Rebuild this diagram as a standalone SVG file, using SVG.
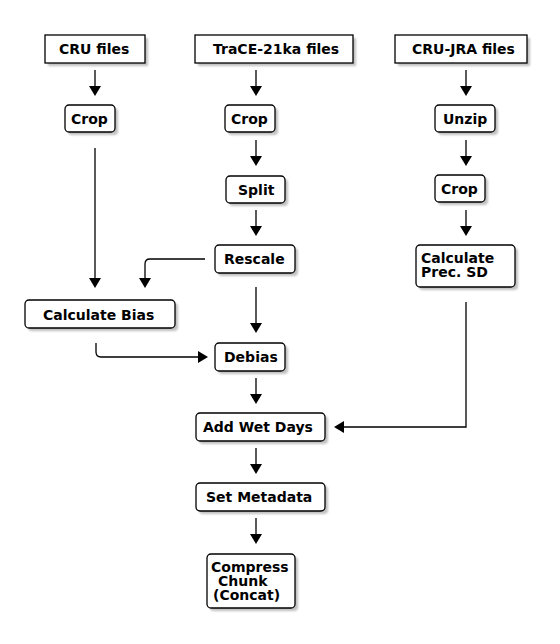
<svg xmlns="http://www.w3.org/2000/svg" width="560" height="644" viewBox="0 0 560 644">
  <style>
    .box { fill: #ffffff; stroke: #000000; stroke-width: 1.3; }
    .shadow { fill: #8c8c8c; opacity: 0.55; filter: url(#soft); }
    .label { font-family: "DejaVu Sans", "Liberation Sans", sans-serif; font-weight: bold; font-size: 14px; fill: #000000; }
    .edge { fill: none; stroke: #000000; stroke-width: 1.3; marker-end: url(#arrow); }
  </style>
  <defs>
    <filter id="soft" x="-10%" y="-20%" width="130%" height="150%">
      <feGaussianBlur stdDeviation="1"/>
    </filter>
    <marker id="arrow" viewBox="0 0 10 12" refX="0" refY="6" markerWidth="10" markerHeight="12" markerUnits="userSpaceOnUse" orient="auto-start-reverse">
      <path d="M0,0 L0,12 L10,6 Z" transform="rotate(0)" fill="#000000"/>
    </marker>
  </defs>
  <rect width="560" height="644" fill="#ffffff"/>

  <!-- connectors -->
  <g id="connectors">
    <path class="edge" d="M95,70 V86"/>
    <path class="edge" d="M256,70 V86"/>
    <path class="edge" d="M466,70 V86"/>
    <path class="edge" d="M256,140 V156"/>
    <path class="edge" d="M466,140 V156"/>
    <path class="edge" d="M256,210 V226"/>
    <path class="edge" d="M466,210 V226"/>
    <path class="edge" d="M95,148 V278"/>
    <path class="edge" d="M205,259 H150 Q145,259 145,264 V278"/>
    <path class="edge" d="M256,287 V323"/>
    <path class="edge" d="M96,343 V352 Q96,357 101,357 H198"/>
    <path class="edge" d="M256,378 V394"/>
    <path class="edge" d="M466,302 V427 H344"/>
    <path class="edge" d="M256,448 V464"/>
    <path class="edge" d="M256,518 V534"/>
  </g>

  <!-- source files -->
  <g id="cru-files">
    <rect class="shadow" x="48" y="38" width="100" height="28"/>
    <rect class="box" x="45" y="35" width="100" height="28"/>
    <text class="label" x="59" y="54">CRU files</text>
  </g>
  <g id="trace-files">
    <rect class="shadow" x="198" y="38" width="158" height="28"/>
    <rect class="box" x="195" y="35" width="158" height="28"/>
    <text class="label" x="213" y="54">TraCE-21ka files</text>
  </g>
  <g id="crujra-files">
    <rect class="shadow" x="398" y="38" width="132" height="28"/>
    <rect class="box" x="395" y="35" width="132" height="28"/>
    <text class="label" x="412" y="54">CRU-JRA files</text>
  </g>

  <!-- CRU branch -->
  <g id="cru-crop">
    <rect class="shadow" x="68" y="108" width="50" height="27" rx="4"/>
    <rect class="box" x="65" y="105" width="50" height="27" rx="4"/>
    <text class="label" x="71" y="124">Crop</text>
  </g>

  <!-- TraCE branch -->
  <g id="trace-crop">
    <rect class="shadow" x="228" y="108" width="50" height="27" rx="4"/>
    <rect class="box" x="225" y="105" width="50" height="27" rx="4"/>
    <text class="label" x="231" y="124">Crop</text>
  </g>
  <g id="split">
    <rect class="shadow" x="229" y="179" width="59" height="27" rx="4"/>
    <rect class="box" x="226" y="176" width="59" height="27" rx="4"/>
    <text class="label" x="238" y="195">Split</text>
  </g>
  <g id="rescale">
    <rect class="shadow" x="218" y="248" width="80" height="28" rx="4"/>
    <rect class="box" x="215" y="245" width="80" height="28" rx="4"/>
    <text class="label" x="224" y="264">Rescale</text>
  </g>

  <!-- CRU-JRA branch -->
  <g id="unzip">
    <rect class="shadow" x="438" y="108" width="60" height="27" rx="4"/>
    <rect class="box" x="435" y="105" width="60" height="27" rx="4"/>
    <text class="label" x="443" y="124">Unzip</text>
  </g>
  <g id="jra-crop">
    <rect class="shadow" x="438" y="178" width="50" height="27" rx="4"/>
    <rect class="box" x="435" y="175" width="50" height="27" rx="4"/>
    <text class="label" x="441" y="194">Crop</text>
  </g>
  <g id="prec-sd">
    <rect class="shadow" x="419" y="248" width="99" height="42" rx="4"/>
    <rect class="box" x="416" y="245" width="99" height="42" rx="4"/>
    <text class="label" x="421" y="263">Calculate</text>
    <text class="label" x="421" y="277">Prec. SD</text>
  </g>

  <!-- merge steps -->
  <g id="calc-bias">
    <rect class="shadow" x="28" y="303" width="150" height="28" rx="4"/>
    <rect class="box" x="25" y="300" width="150" height="28" rx="4"/>
    <text class="label" x="43" y="320">Calculate Bias</text>
  </g>
  <g id="debias">
    <rect class="shadow" x="218" y="346" width="70" height="28" rx="4"/>
    <rect class="box" x="215" y="343" width="70" height="28" rx="4"/>
    <text class="label" x="224" y="362">Debias</text>
  </g>
  <g id="wet-days">
    <rect class="shadow" x="199" y="416" width="129" height="28" rx="4"/>
    <rect class="box" x="196" y="413" width="129" height="28" rx="4"/>
    <text class="label" x="203" y="432">Add Wet Days</text>
  </g>
  <g id="metadata">
    <rect class="shadow" x="199" y="486" width="129" height="28" rx="4"/>
    <rect class="box" x="196" y="483" width="129" height="28" rx="4"/>
    <text class="label" x="206" y="502">Set Metadata</text>
  </g>
  <g id="compress">
    <rect class="shadow" x="210" y="557" width="88" height="54" rx="4"/>
    <rect class="box" x="207" y="554" width="88" height="54" rx="4"/>
    <text class="label" x="211" y="572">Compress</text>
    <text class="label" x="218" y="586">Chunk</text>
    <text class="label" x="213" y="600">(Concat)</text>
  </g>
</svg>
